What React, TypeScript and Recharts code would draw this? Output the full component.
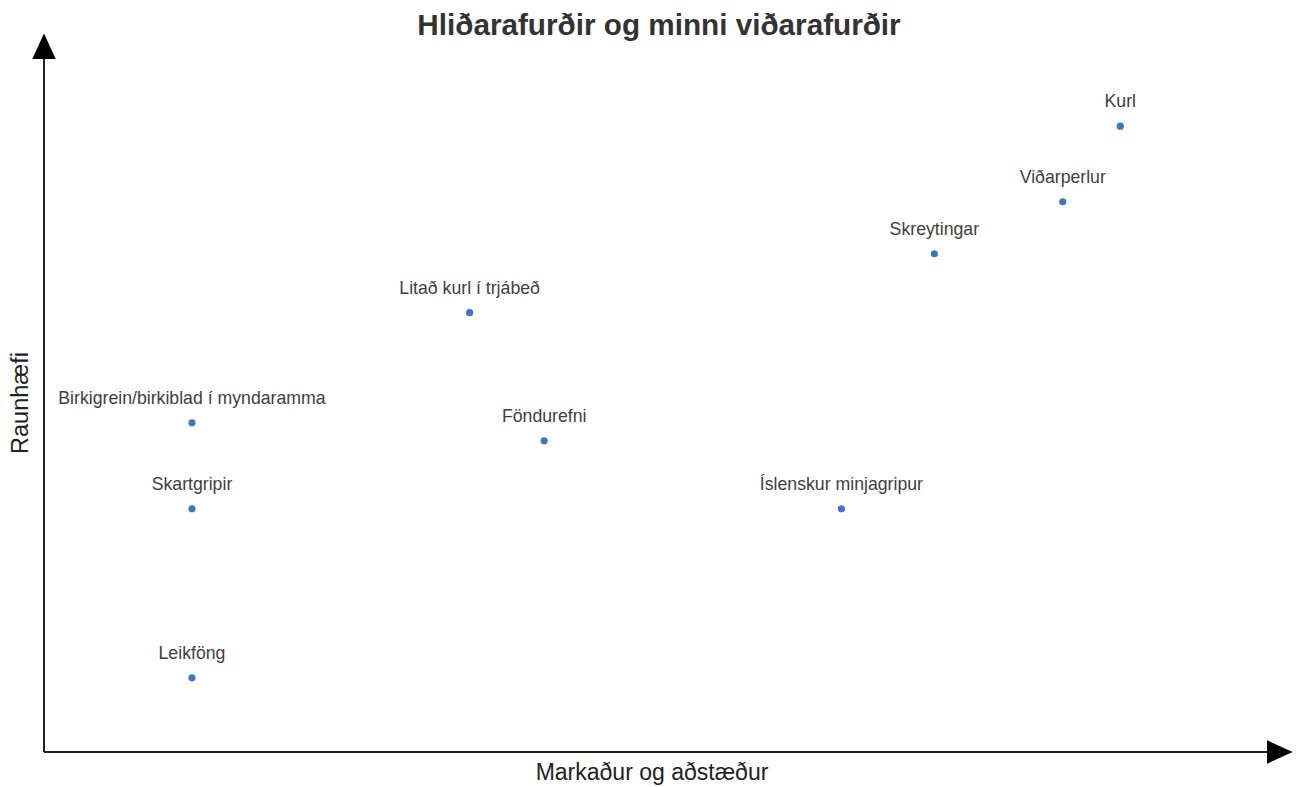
import React from 'react';
import { ScatterChart, Scatter, XAxis, YAxis, Customized } from 'recharts';

const names = [
  'Kurl',
  'Viðarperlur',
  'Skreytingar',
  'Litað kurl í trjábeð',
  'Birkigrein/birkiblad í myndaramma',
  'Föndurefni',
  'Skartgripir',
  'Íslenskur minjagripur',
  'Leikföng',
];
const marketValues = [88.0, 83.3, 72.8, 34.8, 12.1, 40.9, 12.1, 65.2, 12.1];
const feasibilityValues = [90.3, 79.4, 71.9, 63.4, 47.5, 44.9, 35.1, 35.1, 10.7];

const title = 'Hliðarafurðir og minni viðarafurðir';
const xLabel = 'Markaður og aðstæður';
const yLabel = 'Raunhæfi';

const data = names.map((name, i) => ({ name, x: marketValues[i], y: feasibilityValues[i] }));

const FONT = '"Liberation Sans", Arial, sans-serif';

const PointShape = (props: any) => {
  const { cx, cy, payload } = props;
  return (
    <g>
      <circle cx={cx} cy={cy} r={3.6} fill="#4472C4" />
      <text
        x={cx}
        y={cy - 19}
        textAnchor="middle"
        fontFamily={FONT}
        fontSize={17.7}
        fill="#404040"
      >
        {payload.name}
      </text>
    </g>
  );
};

const Texts = () => (
  <g>
    <text x={659} y={35} textAnchor="middle" fontFamily={FONT} fontSize={29.7} fontWeight="bold" fill="#333">
      {title}
    </text>
    <text x={652} y={780} textAnchor="middle" fontFamily={FONT} fontSize={23} fill="#222">
      {xLabel}
    </text>
    <text
      x={20}
      y={403}
      textAnchor="middle"
      dominantBaseline="central"
      transform="rotate(-90 20 403)"
      fontFamily={FONT}
      fontSize={23.5}
      fill="#222"
    >
      {yLabel}
    </text>
  </g>
);

export default function App() {
  return (
    <div style={{ position: 'absolute', left: 0, top: 0, background: '#fff' }}>
      <ScatterChart
        width={1299}
        height={787}
        margin={{ top: 59, right: 32, bottom: 0, left: 0 }}
      >
        <defs>
          <marker
            id="axisArrow"
            markerUnits="userSpaceOnUse"
            markerWidth={26}
            markerHeight={24}
            refX={0}
            refY={11.75}
            orient="auto-start-reverse"
            viewBox="0 0 26 24"
          >
            <path d="M0,0 L25.5,11.75 L0,23.5 z" fill="#000" />
          </marker>
        </defs>
        <XAxis
          type="number"
          dataKey="x"
          domain={[0, 100]}
          height={35}
          tick={false}
          tickLine={false}
          allowDataOverflow
          stroke="#222"
          strokeWidth={2}
          markerEnd="url(#axisArrow)"
          axisLine={{ stroke: '#222', strokeWidth: 2, markerEnd: 'url(#axisArrow)' } as any}
        />
        <YAxis
          type="number"
          dataKey="y"
          domain={[0, 100]}
          width={44}
          tick={false}
          tickLine={false}
          allowDataOverflow
          stroke="#222"
          strokeWidth={2}
          markerStart="url(#axisArrow)"
          axisLine={{ stroke: '#222', strokeWidth: 2, markerStart: 'url(#axisArrow)' } as any}
        />
        <Scatter data={data} shape={PointShape} isAnimationActive={false} />
        <Customized component={Texts} />
      </ScatterChart>
    </div>
  );
}
